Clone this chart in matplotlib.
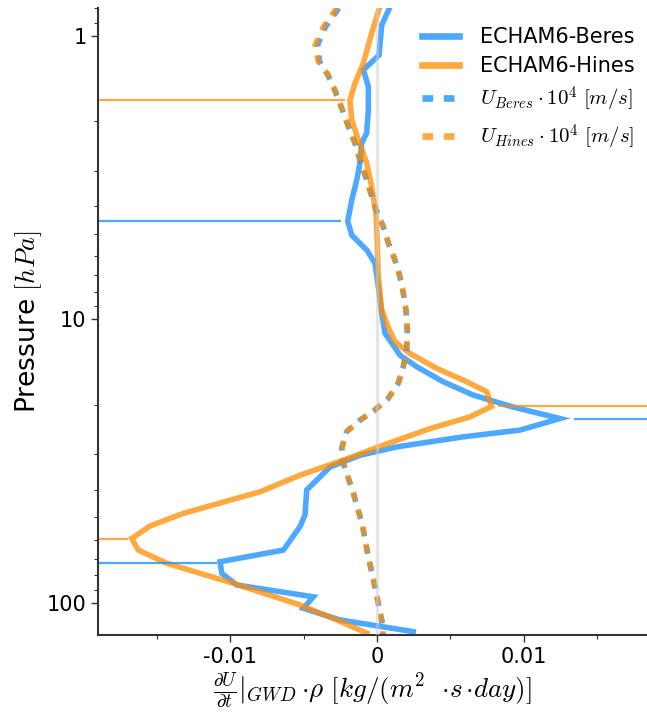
import numpy as np
import matplotlib
matplotlib.use("Agg")
import matplotlib.pyplot as plt
from matplotlib.ticker import FixedLocator, MultipleLocator, NullFormatter

plt.rcParams['mathtext.fontset'] = 'cm'
plt.rcParams['font.family'] = ['DejaVu Sans']

# ---------------- data ----------------
# GWD tendency * rho  (in 1e-3 kg/(m^2 s day)) for each scheme, on its pressure levels (hPa)
beres_p = [0.80, 0.917, 1.17, 1.32, 1.51, 1.83, 2.20, 2.39, 2.81, 3.23,
           3.80, 4.51, 5.05, 5.70, 6.34, 7.68, 9.51, 11.2, 13.4, 14.7,
           16.6, 18.5, 20.4, 22.4, 24.6, 26.0, 28.2, 30.2, 33.2, 40.0,
           49.0, 53.9, 65.2, 71.7, 78.8, 86.6, 95.3, 104.6, 115.0, 126.5]
beres_gwd = [0.84, 0.32, 0.14, -0.93, -0.59, -0.59, -0.70, -1.04, -1.16, -1.38,
             -1.72, -1.99, -1.72, -0.70, -0.14, 0.09, 0.32, 0.54, 1.57, 2.70,
             4.49, 6.53, 9.25, 12.45, 9.73, 5.85, 1.34, -1.16, -3.20, -4.78,
             -4.90, -5.24, -6.37, -10.68, -10.56, -9.54, -4.33, -5.01, -2.52, 2.47]

hines_p = [0.80, 0.978, 1.25, 1.47, 1.69, 1.98, 2.33, 2.81, 3.41, 4.22,
           5.38, 7.08, 9.28, 10.7, 12.0, 13.2, 14.9, 16.4, 18.0, 20.3,
           22.1, 24.3, 27.8, 31.4, 35.5, 40.6, 48.4, 53.6, 59.3, 65.2,
           72.6, 85.4, 101.9, 115.0, 128.0]
hines_gwd = [0.16, -0.36, -0.93, -1.50, -1.84, -1.72, -1.27, -0.70, -0.36, -0.07,
             0.02, 0.09, 0.32, 0.77, 1.22, 2.24, 4.06, 5.87, 7.46, 7.80,
             6.33, 3.61, 0.43, -2.29, -5.24, -7.96, -13.18, -15.44, -16.69, -16.24,
             -14.31, -9.78, -5.24, -2.74, -0.70]

# zonal wind (m/s) on pressure levels (hPa)
u_p = [0.80, 0.929, 1.08, 1.235, 1.376, 1.554, 1.80, 2.09, 2.39, 2.74,
       3.23, 4.01, 4.72, 5.38, 6.18, 7.08, 8.08, 9.28, 10.9, 12.8,
       14.7, 16.8, 19.0, 20.9, 22.7, 24.9, 28.5, 32.2, 41.1, 53.3,
       68.9, 87.9, 115.0, 130.0]
u_beres = [-26.0, -35.0, -40.5, -39.0, -33.5, -28.8, -24.0, -19.5, -15.0, -11.6,
           -7.0, -1.4, 4.3, 7.7, 12.2, 15.6, 17.9, 19.7, 20.6, 20.2,
           17.9, 14.5, 7.7, -1.4, -11.6, -20.6, -24.0, -22.9, -16.1, -9.9,
           -5.9, -1.4, 3.2, 4.1]
u_hines = [-27.4, -36.5, -42.2, -39.9, -33.1, -28.6, -24.0, -19.5, -15.0, -11.6,
           -7.0, -1.4, 4.3, 7.7, 12.2, 15.6, 17.9, 19.7, 20.6, 20.2,
           17.9, 14.5, 7.7, -1.4, -11.6, -20.6, -24.0, -22.9, -16.1, -9.9,
           -5.9, -1.4, 3.2, 4.1]

# marked extremes: pressure (hPa) and value (1e-3 units)
beres_mark_p = [4.5, 22.4, 72.3]
beres_mark_x = [-2.47, 13.4, -10.9]
hines_mark_p = [1.69, 20.2, 59.6]
hines_mark_x = [-2.18, 8.23, -16.94]

labels = ['ECHAM6-Beres', 'ECHAM6-Hines',
          r'$U_{Beres} \cdot 10^4\ [m/s]$', r'$U_{Hines} \cdot 10^4\ [m/s]$']
xtick_vals = [-0.01, 0, 0.01]
xtick_labels = ['-0.01', '0', '0.01']
ytick_vals = [1, 10, 100]
ytick_labels = ['1', '10', '100']

# ---------------- plot ----------------
BLUE = '#1e90ff'
ORANGE = '#ff8c00'
ALPHA_B = 0.78
ALPHA_O = 0.75
LW = 4.0
DOT = (0, (1.6, 1.6))

fig = plt.figure(figsize=(6.47, 7.16), dpi=100)
ax = fig.add_axes([0.152, 0.1131, 0.848, 0.8753])

XL = (-0.01896, 0.01837)

l1, = ax.plot(np.array(beres_gwd) * 1e-3, beres_p, color=BLUE, alpha=ALPHA_B, lw=LW,
              solid_joinstyle='miter', label=labels[0])
l2, = ax.plot(np.array(hines_gwd) * 1e-3, hines_p, color=ORANGE, alpha=ALPHA_O, lw=LW,
              solid_joinstyle='miter', label=labels[1])
l3, = ax.plot(np.array(u_beres) * 1e-4, u_p, color=BLUE, alpha=ALPHA_B, lw=LW,
              linestyle=DOT, label=labels[2])
l4, = ax.plot(np.array(u_hines) * 1e-4, u_p, color=ORANGE, alpha=ALPHA_O, lw=LW,
              linestyle=DOT, label=labels[3])

for mp, mx, col, al in [(beres_mark_p, beres_mark_x, BLUE, ALPHA_B),
                        (hines_mark_p, hines_mark_x, ORANGE, ALPHA_O)]:
    for p, x in zip(mp, mx):
        xv = x * 1e-3
        if xv < 0:
            ax.hlines(p, XL[0], xv, color=col, alpha=al, lw=1.6)
        else:
            ax.hlines(p, xv, XL[1], color=col, alpha=al, lw=1.6)

ax.axvline(0, color='#cccccc', alpha=0.5, lw=2.5, zorder=5)

ax.set_yscale('log')
ax.set_ylim(130, 0.80)
ax.set_xlim(*XL)

ax.yaxis.set_major_locator(FixedLocator(ytick_vals))
ax.set_yticklabels(ytick_labels)
ax.yaxis.set_minor_formatter(NullFormatter())
ax.set_xticks(xtick_vals)
ax.set_xticklabels(xtick_labels)
ax.xaxis.set_minor_locator(MultipleLocator(0.005))

for s in ['top', 'right']:
    ax.spines[s].set_visible(False)
for s in ['left', 'bottom']:
    ax.spines[s].set_color('#333333')
    ax.spines[s].set_linewidth(1.5)
ax.tick_params(which='both', direction='out', color='#333333', top=False, right=False)
ax.tick_params(which='major', length=5, width=1.0, labelsize=15)
ax.tick_params(which='minor', length=3, width=0.8)

ax.set_ylabel(r'Pressure $[hPa]$', fontsize=19, labelpad=2)
ax.set_xlabel(r'$\frac{\partial U}{\partial t}|_{GWD}\,{\cdot}\rho\ [kg/(m^2\ \ {\cdot}s\,{\cdot}day)]$',
              fontsize=19.5, labelpad=3)

leg = ax.legend(handles=[l1, l2, l3, l4], loc='upper right', frameon=False, fontsize=15,
                handlelength=1.8, handletextpad=1.0, borderaxespad=0.2,
                labelspacing=0.42, bbox_to_anchor=(1.0, 0.99))
for h in leg.get_lines():
    h.set_linewidth(4.8)

fig.savefig('out.png', dpi=100)
